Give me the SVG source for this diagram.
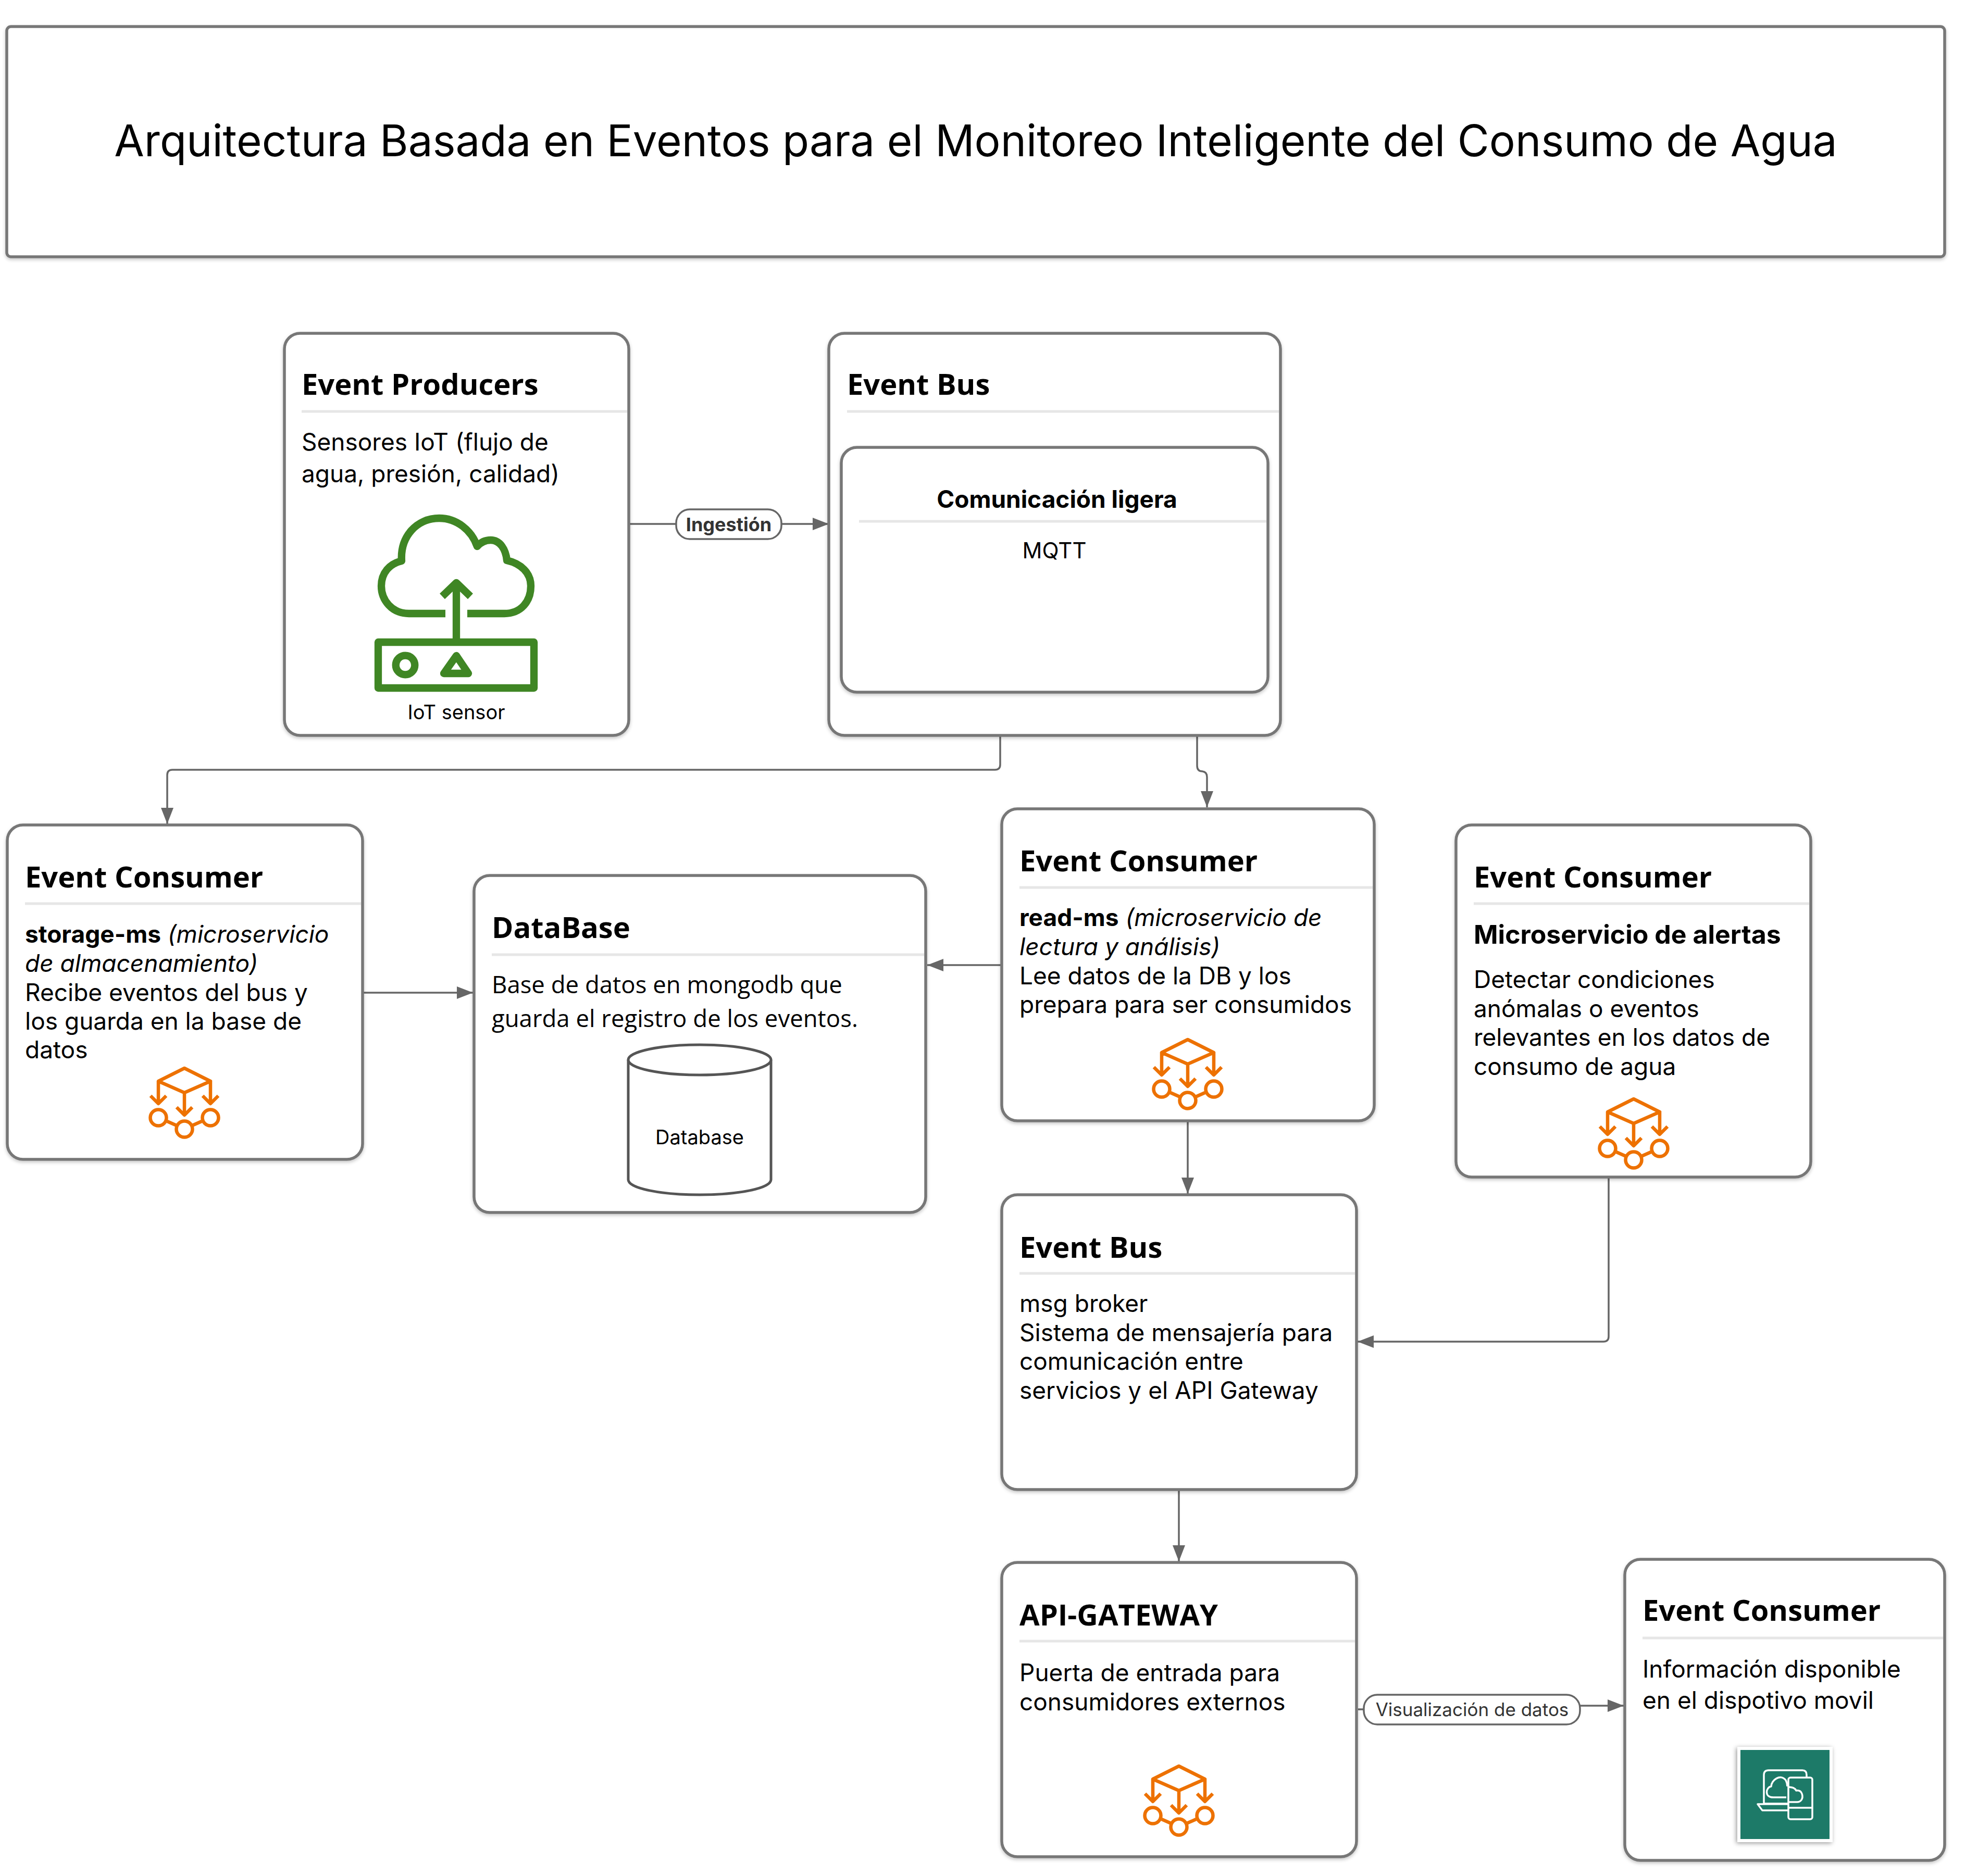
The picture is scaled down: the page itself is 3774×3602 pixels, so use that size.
<svg xmlns="http://www.w3.org/2000/svg" width="3774" height="3602" viewBox="0 0 3774 3602">
<style>
text{font-family:"Inter","Noto Sans","Liberation Sans",sans-serif;fill:#000}
.card{fill:#fff;stroke:#777;stroke-width:5.5;filter:url(#sh)}
.h{font-family:"Open Sans","Noto Sans","Liberation Sans",sans-serif;font-size:56px;font-weight:700}
.b{font-size:46px}
.o{font-family:"Open Sans","Noto Sans","Liberation Sans",sans-serif;font-size:45.5px}
.div{stroke:#e6e6e6;stroke-width:5;fill:none}
.c{fill:none;stroke:#666;stroke-width:3.5}
.pill{fill:#fff;stroke:#666;stroke-width:3.5}
.or{fill:none;stroke:#ed7100;stroke-width:6.5;stroke-linejoin:round}
.gr{fill:none;stroke:#3f8624;stroke-width:14.3;stroke-linejoin:round}
.wh{fill:none;stroke:#fff;stroke-width:3.5;stroke-linejoin:round}
</style>
<defs>
<filter id="sh" x="-5%" y="-5%" width="110%" height="110%"><feDropShadow dx="0" dy="3" stdDeviation="3" flood-color="#000" flood-opacity="0.22"/></filter>
<filter id="sh2" x="-10%" y="-10%" width="120%" height="120%"><feDropShadow dx="-2" dy="2" stdDeviation="4" flood-color="#000" flood-opacity="0.4"/></filter>
<marker id="a" markerUnits="userSpaceOnUse" markerWidth="32" markerHeight="26" refX="31" refY="12" orient="auto"><path d="M0 0L31 12L0 24Z" fill="#666"/></marker>
<g id="proc" class="or">
<path d="M0 0L50 25L0 47L-50 25ZM-50 25V68M50 25V68M0 47V90M-65 53L-50 68L-35 53M65 53L50 68L35 53M-15 75L0 90L15 75M-33 102L-15 110M33 102L15 110"/>
<circle cx="-50" cy="95" r="15.5"/><circle cx="50" cy="95" r="15.5"/><circle cx="0" cy="117" r="15.5"/>
</g>
</defs>
<rect width="3774" height="3602" fill="#fff"/>
<g id="title"><rect class="card" x="13" y="51" width="3720" height="442" rx="8"/>
<text x="1873" y="300" text-anchor="middle" font-size="83.5">Arquitectura Basada en Eventos para el Monitoreo Inteligente del Consumo de Agua</text></g>
<g id="connectors">
<path class="c" marker-end="url(#a)" d="M1207 1006H1591"/>
<path class="c" marker-end="url(#a)" d="M1920 1412V1468Q1920 1478 1910 1478H331Q321 1478 321 1488V1582"/>
<path class="c" marker-end="url(#a)" d="M2298 1412V1470Q2298 1481 2308 1481Q2317 1482 2317 1492V1550"/>
<path class="c" marker-end="url(#a)" d="M696 1906H908"/>
<path class="c" marker-end="url(#a)" d="M1923 1853H1780"/>
<path class="c" marker-end="url(#a)" d="M2280 2152V2292"/>
<path class="c" marker-end="url(#a)" d="M3088 2260V2566Q3088 2576 3078 2576H2606"/>
<path class="c" marker-end="url(#a)" d="M2263 2860V2998"/>
<path class="c" d="M2607 3282H2625"/>
<path class="c" marker-end="url(#a)" d="M3030 3275H3117"/>
</g>
<g id="producers"><rect class="card" x="546" y="640" width="661" height="772" rx="30"/>
<text class="h" x="579" y="758">Event Producers</text><path class="div" d="M579 790H1204"/>
<text class="b" x="579" y="865">Sensores IoT (flujo de</text><text class="b" x="579" y="926">agua, presión, calidad)</text>
<g id="iot-icon" class="gr"><path d="M855 1178H785C752 1178 732 1152 732 1125C732 1100 748 1082 771 1077C768 1030 800 995 843 995C877 995 905 1018 916 1049C923 1041 932 1037 942 1037C960 1037 971 1055 973 1076C1000 1082 1019 1100 1019 1125C1019 1155 1000 1178 968 1178H897"/>
<path d="M876 1227V1125"/><path d="M849 1145L876 1119L903 1145"/><rect x="726" y="1233" width="299" height="88"/><circle cx="778" cy="1277" r="18.3"/><path d="M876 1259L899 1293H852Z"/></g>
<text x="876" y="1381" text-anchor="middle" font-size="38">IoT sensor</text></g>
<g id="bus"><rect class="card" x="1591" y="640" width="867" height="772" rx="30"/>
<text class="h" x="1626" y="758">Event Bus</text><path class="div" d="M1626 790H2455"/>
<rect class="card" x="1615" y="859" width="819" height="470" rx="30"/>
<text x="2029" y="975" text-anchor="middle" font-size="46" font-weight="700">Comunicación ligera</text><path class="div" d="M1649 1001H2431"/>
<text x="2024" y="1072" text-anchor="middle" font-size="42">MQTT</text></g>
<g id="storage"><rect class="card" x="14" y="1584" width="682" height="642" rx="30"/>
<text class="h" x="48" y="1704">Event Consumer</text><path class="div" d="M48 1735H693"/>
<text class="b" x="48" y="1810"><tspan font-weight="700">storage-ms</tspan> <tspan font-style="italic">(microservicio</tspan></text><text class="b" x="48" y="1866" font-style="italic">de almacenamiento)</text>
<text class="b" x="48" y="1922">Recibe eventos del bus y</text><text class="b" x="48" y="1977">los guarda en la base de</text><text class="b" x="48" y="2032">datos</text>
<use href="#proc" x="354" y="2051"/></g>
<g id="database"><rect class="card" x="910" y="1681" width="867" height="647" rx="30"/>
<text class="h" x="944" y="1801">DataBase</text><path class="div" d="M944 1833H1774"/>
<text class="o" x="944" y="1907">Base de datos en mongodb que</text><text class="o" x="944" y="1972">guarda el registro de los eventos.</text>
<path d="M1206 2035V2265C1206 2282 1270 2294 1343 2294C1416 2294 1480 2282 1480 2265V2035" fill="#fff" stroke="#555" stroke-width="5"/><ellipse cx="1343" cy="2035" rx="137" ry="29" fill="#fff" stroke="#555" stroke-width="5"/>
<text x="1343" y="2197" text-anchor="middle" font-size="38">Database</text></g>
<g id="read"><rect class="card" x="1923" y="1553" width="715" height="599" rx="30"/>
<text class="h" x="1957" y="1673">Event Consumer</text><path class="div" d="M1957 1704H2635"/>
<text class="b" x="1957" y="1778"><tspan font-weight="700">read-ms</tspan> <tspan font-style="italic">(microservicio de</tspan></text><text class="b" x="1957" y="1834" font-style="italic">lectura y análisis)</text>
<text class="b" x="1957" y="1890">Lee datos de la DB y los</text><text class="b" x="1957" y="1945">prepara para ser consumidos</text>
<use href="#proc" x="2280" y="1996"/></g>
<g id="alert"><rect class="card" x="2795" y="1584" width="681" height="676" rx="30"/>
<text class="h" x="2829" y="1704">Event Consumer</text><path class="div" d="M2829 1735H3473"/>
<text x="2829" y="1812" font-size="50" font-weight="700">Microservicio de alertas</text>
<text class="b" x="2829" y="1897">Detectar condiciones</text><text class="b" x="2829" y="1953">anómalas o eventos</text><text class="b" x="2829" y="2008">relevantes en los datos de</text><text class="b" x="2829" y="2064">consumo de agua</text>
<use href="#proc" x="3136" y="2110"/></g>
<g id="bus2"><rect class="card" x="1923" y="2294" width="681" height="566" rx="30"/>
<text class="h" x="1957" y="2415">Event Bus</text><path class="div" d="M1957 2445H2601"/>
<text class="b" x="1957" y="2519">msg broker</text><text class="b" x="1957" y="2575">Sistema de mensajería para</text><text class="b" x="1957" y="2630">comunicación entre</text><text class="b" x="1957" y="2686">servicios y el API Gateway</text></g>
<g id="api"><rect class="card" x="1923" y="3000" width="681" height="565" rx="30"/>
<text class="h" x="1957" y="3121">API-GATEWAY</text><path class="div" d="M1957 3151H2601"/>
<text class="b" x="1957" y="3228">Puerta de entrada para</text><text class="b" x="1957" y="3284">consumidores externos</text>
<use href="#proc" x="2263" y="3391"/></g>
<g id="mobile"><rect class="card" x="3119" y="2994" width="614" height="578" rx="30"/>
<text class="h" x="3153" y="3112">Event Consumer</text><path class="div" d="M3153 3145H3730"/>
<text class="b" x="3153" y="3221">Información disponible</text><text class="b" x="3153" y="3281">en el dispotivo movil</text>
<g id="mobile-icon"><rect x="3335" y="3354" width="183" height="183" fill="#fff" filter="url(#sh2)"/><rect x="3341" y="3360" width="171" height="171" fill="#1d7a68"/>
<path class="wh" d="M3433 3463H3386V3408Q3386 3399 3395 3399H3460Q3468 3399 3468 3408V3412M3433 3464H3374L3383 3476H3433M3429 3451H3404C3386 3451 3390 3431 3400 3430C3400 3418 3418 3405 3428 3418C3430 3422 3431 3425 3431 3430M3433 3431C3440 3432 3445 3432 3448 3438C3460 3436 3462 3450 3458 3456Q3455 3460 3450 3460H3433"/>
<rect class="wh" x="3433" y="3413" width="46" height="80" rx="4"/><path class="wh" d="M3433 3471H3479"/></g></g>
<g id="labels"><rect class="pill" x="1298" y="978" width="202" height="57" rx="26"/>
<text x="1399" y="1020" text-anchor="middle" font-size="36" font-weight="700" style="fill:#333">Ingestión</text>
<rect class="pill" x="2618" y="3254" width="415" height="57" rx="26"/>
<text x="2826" y="3295" text-anchor="middle" font-size="35" style="fill:#333">Visualización de datos</text></g>
</svg>
